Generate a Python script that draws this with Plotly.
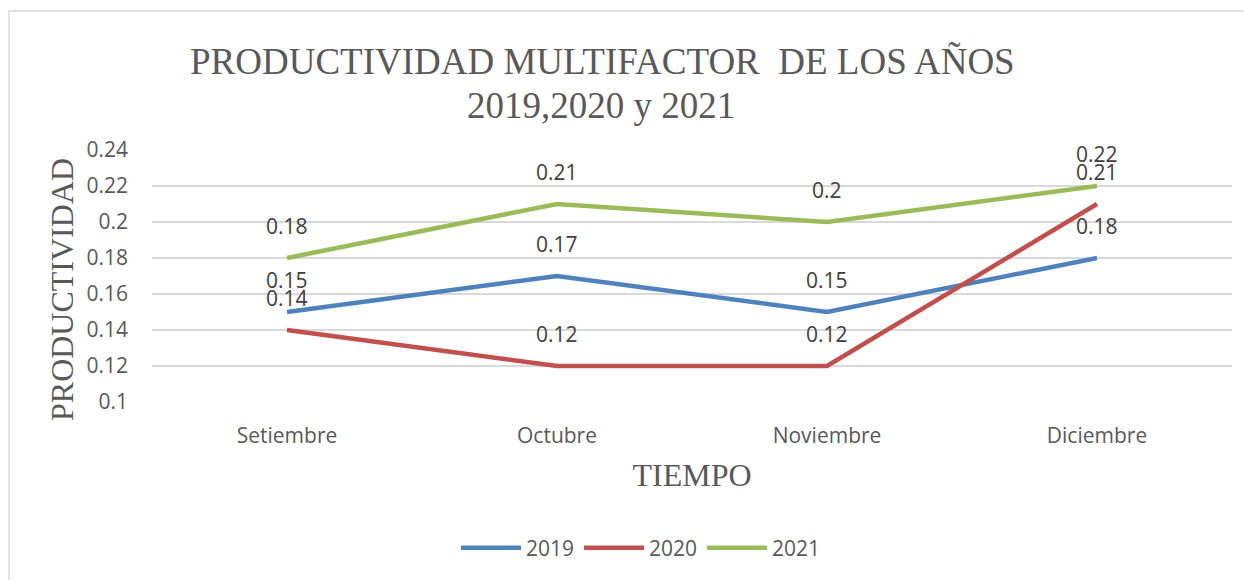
import plotly.graph_objects as go

meses = ["Setiembre", "Octubre", "Noviembre", "Diciembre"]
anios = ["2019", "2020", "2021"]
v2019 = [0.15, 0.17, 0.15, 0.18]
v2020 = [0.14, 0.12, 0.12, 0.21]
v2021 = [0.18, 0.21, 0.20, 0.22]
colores = ["#4F81BD", "#C0504D", "#9BBB59"]
y_ticks = [0.1, 0.12, 0.14, 0.16, 0.18, 0.2, 0.22, 0.24]

LABEL_FONT = dict(family="Open Sans", size=21, color="#404040")
SERIF = dict(family="Liberation Serif", color="#595959")

fig = go.Figure()
annotations = []
for name, vals, col in zip(anios, [v2019, v2020, v2021], colores):
    fig.add_trace(go.Scatter(
        x=meses, y=vals, name=name, mode="lines",
        line=dict(color=col, width=4.5),
    ))
    for m, v in zip(meses, vals):
        annotations.append(dict(
            x=m, y=v, xref="x", yref="y", text=f"{v:g}", showarrow=False,
            yshift=32, font=LABEL_FONT, xanchor="center", yanchor="middle",
        ))

# title as two lines with tight spacing
annotations.append(dict(
    text="PRODUCTIVIDAD MULTIFACTOR  DE LOS AÑOS", xref="paper", yref="paper",
    x=(602 - 152) / 1080, y=(402 - 62) / 252, showarrow=False,
    xanchor="center", yanchor="middle", font=dict(size=37, **SERIF),
))
annotations.append(dict(
    text="2019,2020 y 2021", xref="paper", yref="paper",
    x=(601 - 152) / 1080, y=(402 - 105) / 252, showarrow=False,
    xanchor="center", yanchor="middle", font=dict(size=37, **SERIF),
))
# y-axis title
annotations.append(dict(
    text="PRODUCTIVIDAD", xref="paper", yref="paper",
    x=(62 - 152) / 1080, y=(402 - 290) / 252, showarrow=False, textangle=-90,
    xanchor="center", yanchor="middle", font=dict(size=32, **SERIF),
))

fig.update_layout(
    width=1244, height=580,
    margin=dict(l=152, r=12, t=150, b=178),
    paper_bgcolor="white", plot_bgcolor="white",
    xaxis=dict(
        type="category", range=[-0.5, 3.5], showgrid=False, showline=False,
        ticks="", ticklabelstandoff=19,
        tickfont=dict(family="Open Sans", size=21, color="#595959"),
        title=dict(text="TIEMPO", standoff=15, font=dict(size=32, **SERIF)),
        zeroline=False,
    ),
    yaxis=dict(
        range=[0.1, 0.24], tickvals=y_ticks, ticktext=[f"{v:g}" for v in y_ticks],
        showgrid=True, gridcolor="#D9D9D9", gridwidth=1.5, zeroline=False,
        showline=False, ticks="", ticklabelstandoff=23,
        tickfont=dict(family="Open Sans", size=21, color="#595959"),
    ),
    legend=dict(
        orientation="h", x=(641 - 152) / 1080, xanchor="center",
        y=-(548 - 402) / 252, yanchor="middle",
        font=dict(family="Open Sans", size=21, color="#595959"),
        itemwidth=60,
    ),
    annotations=annotations,
    shapes=[dict(
        type="rect", xref="paper", yref="paper",
        x0=(9 - 152) / 1080, x1=(1260 - 152) / 1080,
        y0=(402 - 600) / 252, y1=(402 - 11) / 252,
        line=dict(color="#D9D9D9", width=1.5), layer="below",
    )],
)

fig.write_html("out.html", config={"displayModeBar": False},
               post_script="document.body.style.margin='0';")
